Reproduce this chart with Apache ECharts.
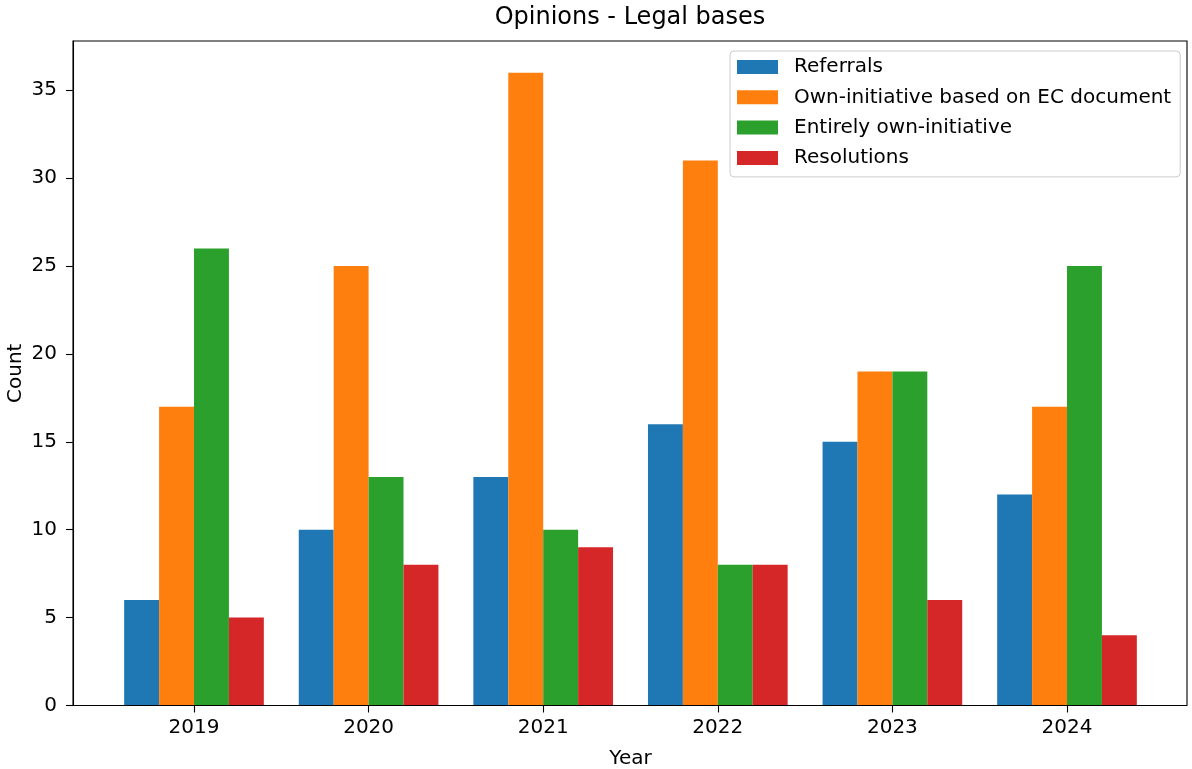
<!DOCTYPE html>
<html>
<head>
<meta charset="utf-8">
<script src="https://cdn.jsdelivr.net/npm/echarts@6/dist/echarts.min.js"></script>
<style>
  html, body { margin: 0; padding: 0; background: #fff; }
  #chart { width: 1192px; height: 769px; }
</style>
</head>
<body>
<div id="chart"></div>
<script>
const years = ['2019', '2020', '2021', '2022', '2023', '2024'];
const referrals = [6, 10, 13, 16, 15, 12];
const ownInitiativeEC = [17, 25, 36, 31, 19, 17];
const entirelyOwnInitiative = [26, 13, 10, 8, 19, 25];
const resolutions = [5, 8, 9, 8, 6, 4];
const yTicks = [0, 5, 10, 15, 20, 25, 30, 35];

const FONT = 'DejaVu Sans';
const chart = echarts.init(document.getElementById('chart'), null, { renderer: 'canvas' });

const seriesDefs = [
  { name: 'Referrals', data: referrals, color: '#1f77b4' },
  { name: 'Own-initiative based on EC document', data: ownInitiativeEC, color: '#ff7f0e' },
  { name: 'Entirely own-initiative', data: entirelyOwnInitiative, color: '#2ca02c' },
  { name: 'Resolutions', data: resolutions, color: '#d62728' }
];

const Y_MAX = 37.8;

chart.setOption({
  animation: false,
  backgroundColor: '#fff',
  textStyle: { fontFamily: FONT },
  title: {
    text: 'Opinions - Legal bases',
    left: 630,
    textAlign: 'center',
    top: 6,
    padding: 0,
    textStyle: { fontFamily: FONT, fontSize: 24, fontWeight: 'normal', color: '#000' }
  },
  legend: {
    orient: 'vertical',
    left: 730,
    top: 51,
    padding: [6, 9, 9, 7],
    itemWidth: 41,
    itemHeight: 14,
    itemGap: 10.3,
    icon: 'rect',
    borderColor: '#cccccc',
    borderWidth: 1,
    borderRadius: 4,
    backgroundColor: 'rgba(255,255,255,0.8)',
    textStyle: { fontFamily: FONT, fontSize: 20, lineHeight: 20, color: '#000', padding: [0, 0, 0, 11] },
    data: seriesDefs.map(s => s.name)
  },
  grid: [
    { left: 73, right: 5, top: 41, bottom: 63.5, show: true, z: 5, borderColor: '#000', borderWidth: 1.1, backgroundColor: 'transparent', containLabel: false, outerBoundsMode: 'none' },
    { left: 106.7, right: 37.7, top: 41, bottom: 63.5, containLabel: false, outerBoundsMode: 'none' }
  ],
  xAxis: [
    { gridIndex: 0, type: 'value', min: 0, max: 1, show: false },
    {
      gridIndex: 1,
      type: 'category',
      data: years,
      boundaryGap: true,
      axisLine: { show: false },
      axisTick: { show: true, alignWithLabel: true, length: 7, lineStyle: { color: '#000', width: 1.1 } },
      axisLabel: { margin: 12.5, fontFamily: FONT, fontSize: 20, color: '#000' },
      name: 'Year',
      nameLocation: 'middle',
      nameGap: 43,
      nameMoveOverlap: false,
      nameTextStyle: { fontFamily: FONT, fontSize: 20, color: '#000' }
    }
  ],
  yAxis: [
    {
      gridIndex: 0,
      type: 'value',
      min: 0,
      max: Y_MAX,
      interval: 5,
      splitLine: { show: false },
      axisLine: { show: true, lineStyle: { color: '#000', width: 1.1 } },
      axisTick: { show: true, length: 7, lineStyle: { color: '#000', width: 1.1 } },
      axisLabel: {
        margin: 16,
        fontFamily: FONT,
        fontSize: 20,
        color: '#000',
        showMaxLabel: false,
        formatter: v => (yTicks.indexOf(v) >= 0 ? String(v) : '')
      },
      name: 'Count',
      nameLocation: 'middle',
      nameGap: 47,
      nameMoveOverlap: false,
      nameTextStyle: { fontFamily: FONT, fontSize: 20, color: '#000' }
    },
    { gridIndex: 1, type: 'value', min: 0, max: Y_MAX, show: false, splitLine: { show: false } }
  ],
  series: seriesDefs.map(s => ({
    name: s.name,
    type: 'bar',
    xAxisIndex: 1,
    yAxisIndex: 1,
    data: s.data,
    barGap: '0%',
    barCategoryGap: '20%',
    itemStyle: { color: s.color },
    emphasis: { disabled: true }
  }))
});
</script>
</body>
</html>
